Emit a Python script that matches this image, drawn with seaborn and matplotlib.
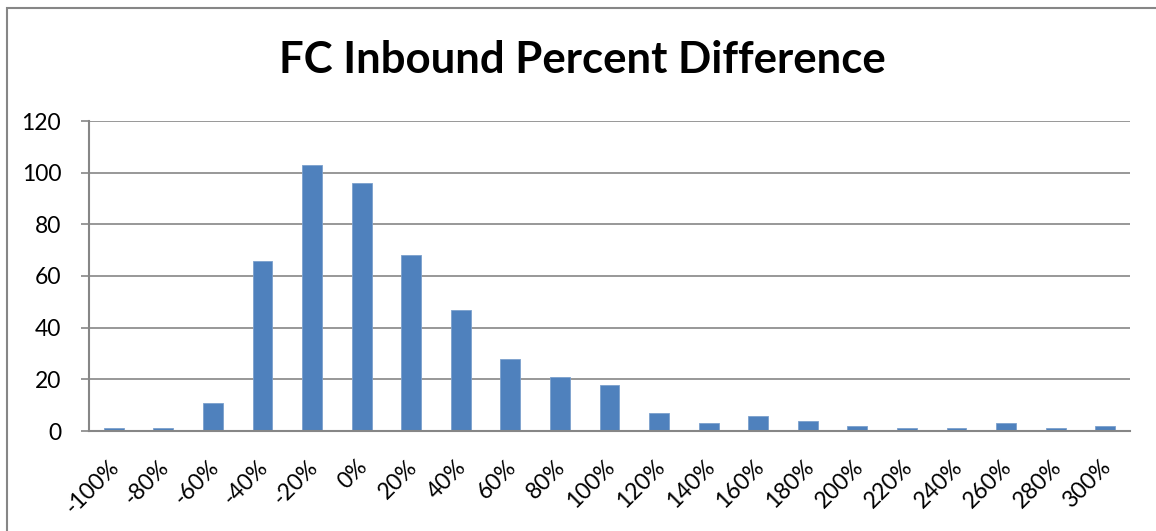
import matplotlib
matplotlib.use('Agg')
import matplotlib.pyplot as plt
import matplotlib.transforms as mtransforms
import seaborn as sns
import pandas as pd
from matplotlib.patches import Rectangle

# histogram bins and counts
bins = ['-100%', '-80%', '-60%', '-40%', '-20%', '0%', '20%', '40%', '60%', '80%', '100%',
        '120%', '140%', '160%', '180%', '200%', '220%', '240%', '260%', '280%', '300%']
counts = [1, 1, 11, 66, 103, 96, 68, 47, 28, 21, 18, 7, 3, 6, 4, 2, 1, 1, 3, 1, 2]
y_ticks = [0, 20, 40, 60, 80, 100, 120]

data = pd.DataFrame({'bin': bins, 'count': counts})

sns.set_style('white')
plt.rcParams['font.family'] = ['Lato', 'DejaVu Sans']
plt.rcParams['text.color'] = 'black'
plt.rcParams['xtick.color'] = 'black'
plt.rcParams['ytick.color'] = 'black'

fig = plt.figure(figsize=(11.56, 5.31), dpi=100)
ax = fig.add_axes([89 / 1156, 100 / 531, 1041 / 1156, 310 / 531])

sns.barplot(data=data, x='bin', y='count', color='#4F81BD', width=0.4,
            saturation=1, edgecolor='#7BA0CD', linewidth=0.6, ax=ax)

grid = '#868686'
ax.set_ylim(0, 120)
ax.set_xlim(-0.5, len(bins) - 0.5)
ax.set_yticks(y_ticks)
ax.set_yticklabels([str(t) for t in y_ticks], fontsize=16.5)
ax.yaxis.grid(True, color=grid, linewidth=1.2)
ax.set_axisbelow(True)
for s in ['top', 'right']:
    ax.spines[s].set_visible(False)
for s in ['left', 'bottom']:
    ax.spines[s].set_color(grid)
    ax.spines[s].set_linewidth(1.5)

# category labels centred under bars, tick marks on category boundaries
ax.set_xticks(range(len(bins)))
ax.set_xticklabels(bins, rotation=45, ha='right', va='top',
                   rotation_mode='anchor', fontsize=16.5)
ax.tick_params(axis='x', length=0, pad=18)
shift = mtransforms.ScaledTranslation(-5 / 100, 0, fig.dpi_scale_trans)
for lbl in ax.get_xticklabels():
    lbl.set_transform(lbl.get_transform() + shift)
ax.set_xticks([i - 0.5 for i in range(len(bins) + 1)], minor=True)
ax.tick_params(axis='x', which='minor', length=8, width=1.5, color=grid, direction='out')
ax.tick_params(axis='y', length=6, width=1.2, color=grid, labelcolor='black',
               direction='out', pad=14, left=True)
ax.set_xlabel('')
ax.set_ylabel('')

fig.text(582 / 1156, 1 - 60 / 531, 'FC Inbound Percent Difference',
         ha='center', va='center', fontsize=31.5, fontweight='bold', color='black')

fig.patches.append(Rectangle((7 / 1156, -0.1), 1.2, 1 - 8 / 531 + 0.1,
                             transform=fig.transFigure, fill=False,
                             edgecolor='#868686', linewidth=1.5))

fig.savefig('out.png', dpi=100)
